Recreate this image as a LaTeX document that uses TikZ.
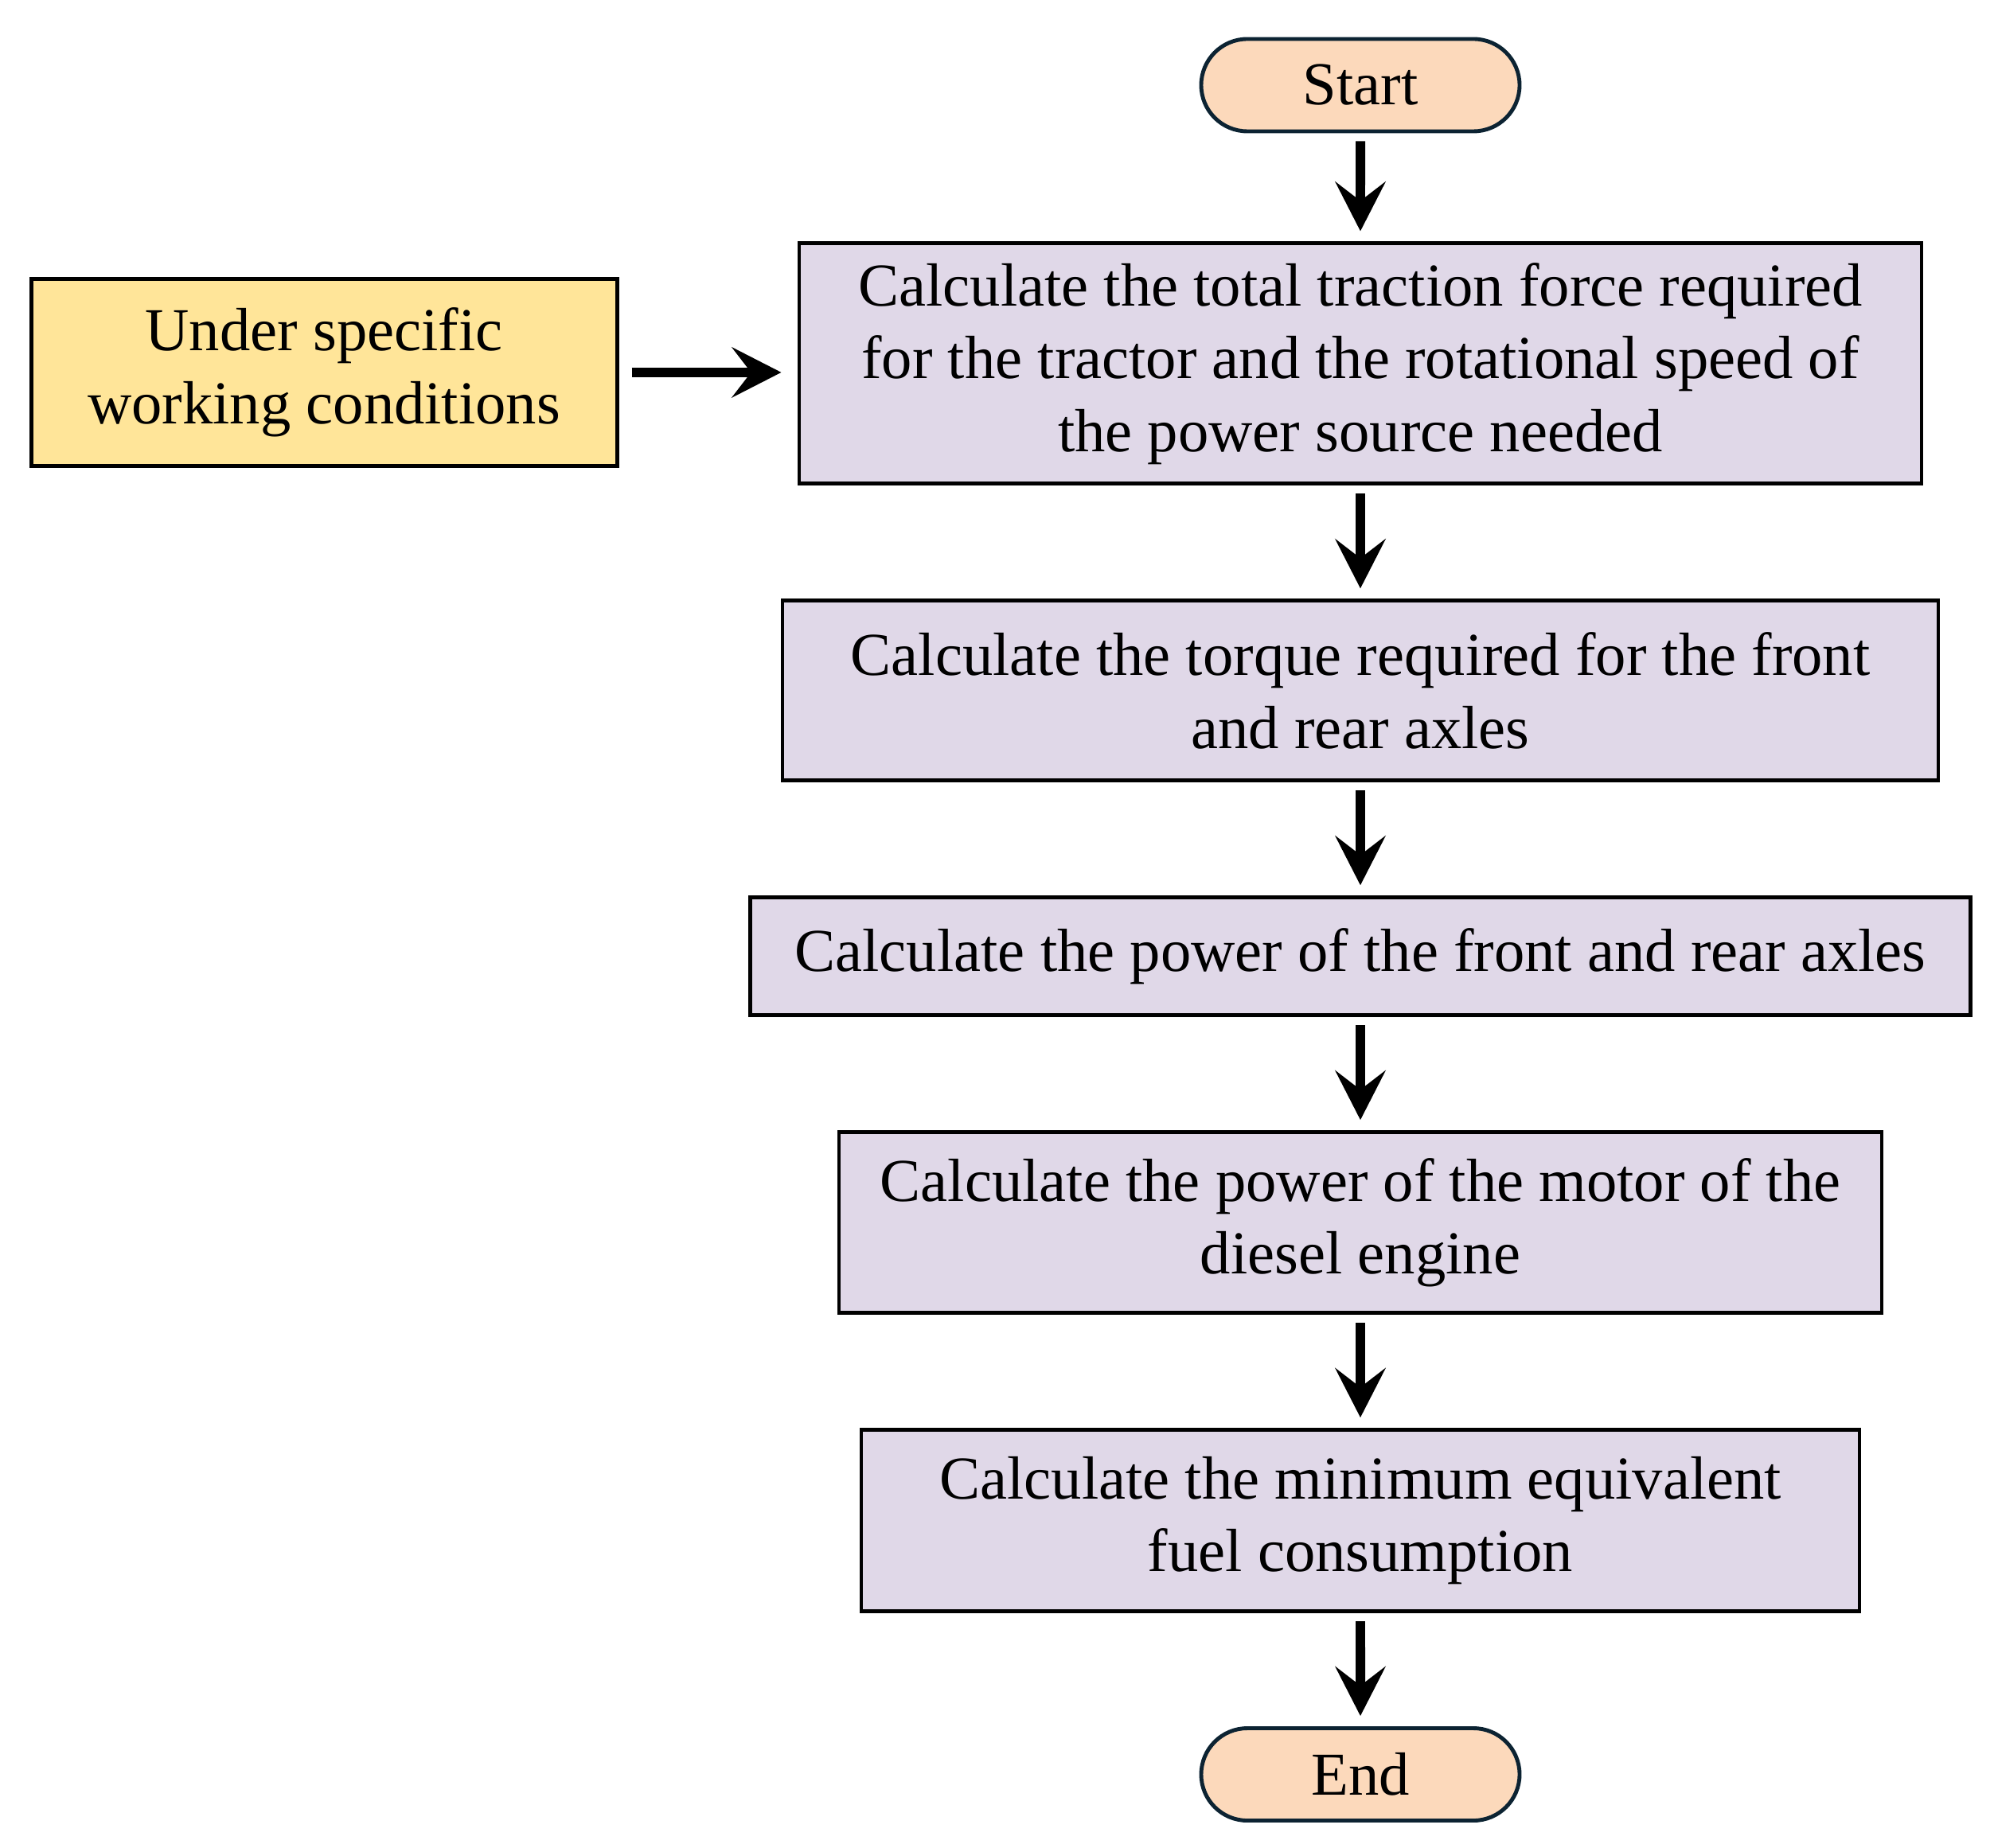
\documentclass[tikz,border=0pt]{standalone}
\usepackage{fontspec}
\setmainfont{Liberation Serif}
\usetikzlibrary{
arrows.meta,
positioning,
shapes.misc
}
\definecolor{peach}{RGB}{252,217,187}
\definecolor{navyline}{RGB}{12,35,50}
\definecolor{lavender}{RGB}{224,216,232}
\definecolor{butter}{RGB}{255,229,153}

\begin{document}
\begin{tikzpicture}[node distance=1.42cm, font=\fontsize{21.8}{26}\selectfont]
		\tikzset{terminal/.style={draw=navyline,line width=1.4pt,fill=peach,rounded rectangle,minimum width=4.0cm,minimum height=1.16cm,inner sep=0pt}}
		\tikzset{stepbox/.style={draw,line width=1.4pt,fill=lavender,align=center,inner sep=0pt}}
		\tikzset{inputbox/.style={draw,line width=1.4pt,fill=butter,align=center,inner sep=0pt}}
		\tikzset{flow/.style={-{Stealth[length=6.2mm,width=6.3mm,inset=2.4mm]},line width=3.4pt,shorten <=0.1cm,shorten >=0.13cm}}
		
		\useasboundingbox (0,0) rectangle (25.05,-23.22);
		
		\node[terminal] (start) at (17.09,-1.07) {Start};
		
		\node[stepbox,minimum width=14.10cm,minimum height=3.02cm,below=1.36cm of start] (traction) {Calculate the total traction force required\\for the tractor and the rotational speed of\\the power source needed};
		\node[stepbox,minimum width=14.52cm,minimum height=2.26cm,below=of traction] (torque) {Calculate the torque required for the front\\and rear axles};
		\node[stepbox,minimum width=15.33cm,minimum height=1.48cm,below=of torque] (axlepower) {Calculate the power of the front and rear axles};
		\node[stepbox,minimum width=13.10cm,minimum height=2.27cm,below=of axlepower] (motor) {Calculate the power of the motor of the\\diesel engine};
		\node[stepbox,minimum width=12.54cm,minimum height=2.28cm,below=of motor] (fuel) {Calculate the minimum equivalent\\fuel consumption};
		
		\node[terminal,below=of fuel] (end) {End};
		
		\node[inputbox,minimum width=7.36cm,minimum height=2.35cm,left=2.24cm of traction,yshift=-0.11cm] (conditions) {Under specific\\working conditions};
		
		\draw[flow] (start) -- (traction);
		\draw[flow] (traction) -- (torque);
		\draw[flow] (torque) -- (axlepower);
		\draw[flow] (axlepower) -- (motor);
		\draw[flow] (motor) -- (fuel);
		\draw[flow] (fuel) -- (end);
		\draw[flow,shorten <=0.16cm,shorten >=0.2cm] (conditions.east) -- (conditions.east -| traction.west);
	\end{tikzpicture}
\end{document}
